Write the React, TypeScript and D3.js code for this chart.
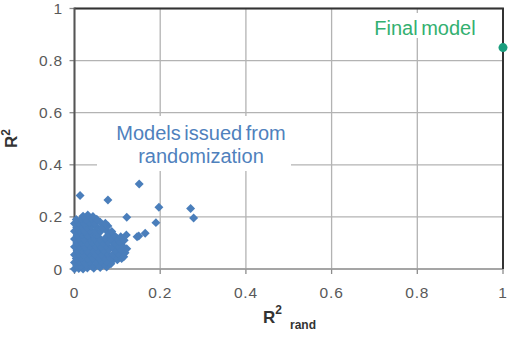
import React from "react";
import * as d3 from "d3";

// axis ticks (both axes share them)
const ticks = [0, 0.2, 0.4, 0.6, 0.8, 1];
const tickLabels = ["0", "0.2", "0.4", "0.6", "0.8", "1"];

// models from y-randomization: [R2rand, R2]
const randomized: [number, number][] = [
  [0.0, 0.0], [0.01, 0.002], [0.02, 0.0], [0.03, 0.004], [0.045, 0.003], [0.06, 0.006], [0.075, 0.008],
  [0.005, 0.012], [0.015, 0.01], [0.028, 0.014], [0.04, 0.011], [0.055, 0.015], [0.07, 0.018], [0.085, 0.02],
  [0.0, 0.025], [0.012, 0.027], [0.024, 0.024], [0.036, 0.028], [0.05, 0.026], [0.062, 0.03], [0.075, 0.029], [0.088, 0.032], [0.1, 0.035],
  [0.004, 0.04], [0.016, 0.042], [0.03, 0.04], [0.043, 0.043], [0.058, 0.041], [0.07, 0.044], [0.083, 0.042], [0.097, 0.046], [0.11, 0.04],
  [0.0, 0.055], [0.01, 0.057], [0.022, 0.054], [0.035, 0.058], [0.048, 0.056], [0.063, 0.055], [0.077, 0.059], [0.09, 0.056], [0.104, 0.058], [0.118, 0.062],
  [0.006, 0.07], [0.018, 0.072], [0.03, 0.069], [0.042, 0.073], [0.055, 0.071], [0.068, 0.07], [0.08, 0.074], [0.095, 0.071], [0.108, 0.075], [0.122, 0.078],
  [0.0, 0.085], [0.012, 0.087], [0.025, 0.084], [0.037, 0.088], [0.05, 0.086], [0.062, 0.085], [0.074, 0.089], [0.088, 0.086], [0.1, 0.09], [0.112, 0.088],
  [0.005, 0.1], [0.017, 0.102], [0.029, 0.099], [0.041, 0.103], [0.054, 0.101], [0.066, 0.1], [0.079, 0.104], [0.093, 0.101], [0.106, 0.105], [0.116, 0.11],
  [0.0, 0.115], [0.011, 0.117], [0.023, 0.114], [0.035, 0.118], [0.047, 0.116], [0.06, 0.115], [0.072, 0.119], [0.085, 0.116], [0.098, 0.12], [0.108, 0.124],
  [0.006, 0.13], [0.018, 0.132], [0.03, 0.129], [0.042, 0.133], [0.053, 0.131], [0.08, 0.134], [0.092, 0.13],
  [0.0, 0.145], [0.012, 0.147], [0.024, 0.144], [0.036, 0.148], [0.049, 0.146], [0.061, 0.145], [0.074, 0.149], [0.087, 0.144],
  [0.005, 0.16], [0.017, 0.162], [0.029, 0.159], [0.04, 0.163], [0.052, 0.161], [0.065, 0.16], [0.078, 0.165],
  [0.0, 0.175], [0.011, 0.177], [0.023, 0.174], [0.035, 0.178], [0.047, 0.176], [0.06, 0.18], [0.072, 0.176],
  [0.004, 0.19], [0.016, 0.192], [0.027, 0.189], [0.04, 0.193], [0.052, 0.191],
  [0.02, 0.203], [0.031, 0.207], [0.043, 0.202],
  // scattered ones
  [0.013, 0.282], [0.078, 0.265], [0.151, 0.326], [0.197, 0.237], [0.271, 0.232], [0.278, 0.196],
  [0.19, 0.178], [0.122, 0.199], [0.15, 0.127], [0.165, 0.137], [0.146, 0.124], [0.121, 0.131], [0.115, 0.047],
];

const finalModel: [number, number] = [1, 0.85];

const W = 512;
const H = 337;

export default function App() {
  const x = d3.scaleLinear().domain([0, 1]).range([74.5, 503]);
  const y = d3.scaleLinear().domain([0, 1]).range([269, 8.5]);
  const diamond = d3.symbol(d3.symbolSquare, 40)() as string;
  const font = "'Liberation Sans', Arial, sans-serif";

  return (
    <svg width={W} height={H} style={{ position: "absolute", left: 0, top: 0, background: "#fff" }} fontFamily={font}>
      {/* grid */}
      {ticks.map((t) => (
        <g key={"g" + t}>
          <line x1={x(t)} x2={x(t)} y1={y(1)} y2={y(0)} stroke="#b3b3b3" strokeWidth={1.3} />
          <line x1={x(0)} x2={x(1)} y1={y(t)} y2={y(t)} stroke="#b3b3b3" strokeWidth={1.3} />
        </g>
      ))}
      {/* ticks and labels */}
      {ticks.map((t, i) => (
        <g key={"t" + t} fill="#595959" fontSize={15.5} letterSpacing={0.8}>
          <line x1={x(0) - 5} x2={x(0)} y1={y(t)} y2={y(t)} stroke="#8c8c8c" strokeWidth={1.3} />
          <line x1={x(t)} x2={x(t)} y1={y(0)} y2={y(0) + 5} stroke="#8c8c8c" strokeWidth={1.3} />
          <text x={63} y={y(t)} dy="0.36em" textAnchor="end">{tickLabels[i]}</text>
          <text x={x(t)} y={298} textAnchor="middle">{tickLabels[i]}</text>
        </g>
      ))}
      {/* frame */}
      <line x1={x(0)} x2={x(1)} y1={y(0)} y2={y(0)} stroke="#9a9a9a" strokeWidth={1.5} />
      <line x1={x(0)} x2={x(1) + 1} y1={y(1)} y2={y(1)} stroke="#333" strokeWidth={2} />
      <line x1={x(1)} x2={x(1)} y1={y(1)} y2={y(0)} stroke="#333" strokeWidth={2} />
      <line x1={x(0)} x2={x(0)} y1={y(1) - 1} y2={y(0)} stroke="#555" strokeWidth={2} />

      {/* annotation boxes */}
      <rect x={97} y={116} width={194} height={55} fill="#fff" />
      <rect x={369} y={13} width={113} height={25} fill="#fff" />

      {/* randomized models */}
      {randomized.map((d, i) => (
        <path key={i} d={diamond} transform={`translate(${x(d[0])},${y(d[1])}) rotate(45)`} fill="#4a7ebb" />
      ))}
      {/* final model */}
      <circle cx={x(finalModel[0])} cy={y(finalModel[1])} r={4.5} fill="#1a9e7e" />

      <g fontSize={20} fill="#4f81bd" textAnchor="middle" wordSpacing={-2}>
        <text x={201} y={140}>Models issued from</text>
        <text x={201} y={163}>randomization</text>
      </g>
      <text x={425} y={35} fontSize={20} fill="#33b070" textAnchor="middle" wordSpacing={-2}>Final model</text>

      {/* axis titles */}
      <text transform="translate(17,148) rotate(-90)" fontWeight="bold" fill="#333" fontSize={17}>
        R<tspan fontSize={12} dy={-7}>2</tspan>
      </text>
      <text x={263} y={323} fontWeight="bold" fill="#333" fontSize={17}>
        R<tspan fontSize={12} dy={-9}>2</tspan>
        <tspan fontSize={12} x={290} y={329}>rand</tspan>
      </text>
    </svg>
  );
}
